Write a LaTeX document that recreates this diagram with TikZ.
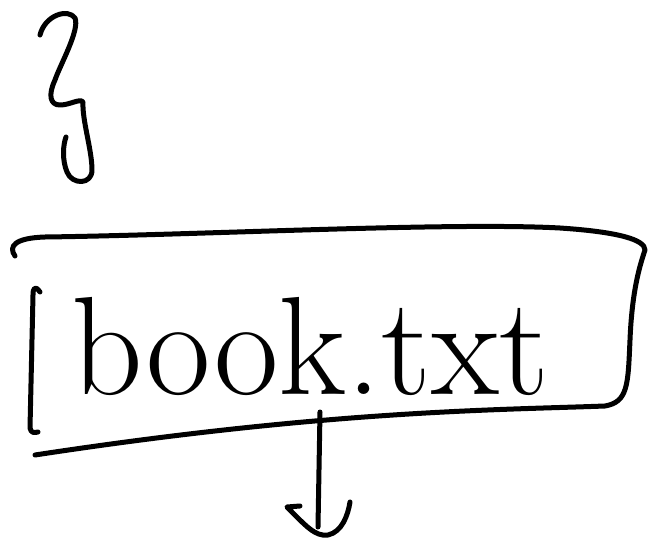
\documentclass[tikz,border=0pt]{standalone}
\begin{document}
\begin{tikzpicture}[x=1pt,y=-1pt,
  ink/.style={line width=5pt,line cap=round,line join=round},
  labeltext/.style={font=\fontsize{140}{140}\selectfont,inner sep=0pt,anchor=base}]
\useasboundingbox (0,0) rectangle (654,546);
\fill[white] (0,0) rectangle (654,546);
% squiggle
\draw[ink] (40,35) .. controls (45,15) and (68,8) .. (75,18)
  .. controls (80,30) and (60,65) .. (55,80)
  .. controls (48,95) and (50,105) .. (60,105)
  .. controls (70,105) and (80,98) .. (83,102)
  .. controls (82,120) and (92,150) .. (92,170)
  .. controls (92,185) and (72,185) .. (67,172)
  .. controls (62,160) and (63,145) .. (66,137);
% label
\node[labeltext] (label) at (310,394) {book.txt};
% box outline
\draw[ink] (15,256) .. controls (8,246) and (15,238) .. (45,237)
  .. controls (200,235) and (450,222) .. (560,228)
  .. controls (620,232) and (645,240) .. (645,250)
  .. controls (640,265) and (632,290) .. (630,340)
  .. controls (628,385) and (628,402) .. (605,406)
  .. controls (500,410) and (330,410) .. (35,455);
% bracket
\draw[ink] (40,292) .. controls (35,285) and (33,288) .. (33,295) -- (30,428) .. controls (31,433) and (34,433) .. (38,432);
% connector
\coordinate (boxb) at (320,412);
\coordinate (tip) at (318,527);
\draw[ink] (boxb) -- (tip);
\draw[ink] (300,506) -- (287,507) .. controls (305,525) and (315,537) .. (328,535)
  .. controls (342,532) and (348,515) .. (350,502);
\end{tikzpicture}
\end{document}
